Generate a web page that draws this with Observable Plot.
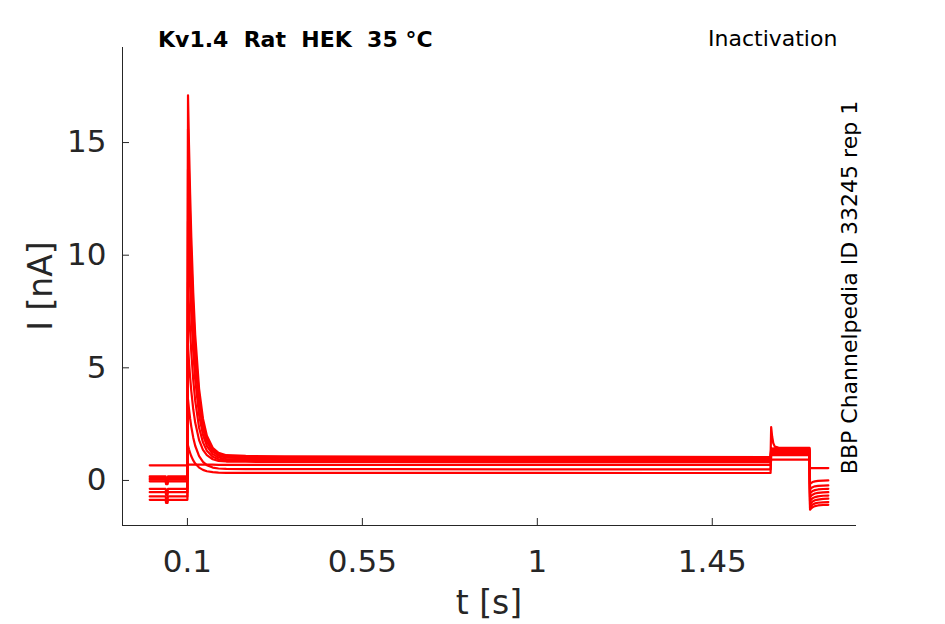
<!DOCTYPE html>
<html>
<head>
<meta charset="utf-8">
<script src="https://cdn.jsdelivr.net/npm/d3@7"></script>
<script src="https://cdn.jsdelivr.net/npm/@observablehq/plot@0.6"></script>
<style>
  html, body { margin: 0; padding: 0; background: #fff; }
  #chart { width: 945px; height: 624px; }
</style>
</head>
<body>
<div id="chart"></div>
<script>
// ---- axis settings ----
const xTicks = [0.1, 0.55, 1, 1.45];
const yTicks = [0, 5, 10, 15];
const xDomain = [-0.067, 1.821];
const yDomain = [-2.0, 19.22];

// ---- traces (9 sweeps) ----
const traceIds = ["A", "T1", "T2", "T3", "T4", "T5", "T6", "T7", "T8"];

// segment 1: holding (0 – 0.1 s)
const tPre = [0.003, 0.044, 0.045, 0.049, 0.050, 0.100];
const iPre = [
  [0.67, 0.67, 0.67, 0.67, 0.67, 0.67],
  [-0.86, -0.86, -1.00, -1.00, -0.86, -0.86],
  [-0.71, -0.71, -0.84, -0.84, -0.71, -0.71],
  [-0.52, -0.52, -0.64, -0.64, -0.52, -0.52],
  [-0.37, -0.37, -0.49, -0.49, -0.37, -0.37],
  [-0.04, -0.04, -0.16, -0.16, -0.04, -0.04],
  [0.03, 0.03, -0.09, -0.09, 0.03, 0.03],
  [0.10, 0.10, -0.02, -0.02, 0.10, 0.10],
  [0.18, 0.18, 0.06, 0.06, 0.18, 0.18]
];

// segment 2: prepulse (0.1 – 1.6 s)
const tMain = [0.1015, 0.104, 0.107, 0.110, 0.115, 0.120, 0.130, 0.140, 0.150, 0.165, 0.180, 0.200, 0.25, 0.35, 0.6, 1.0, 1.3, 1.6];
const iMain = [
  [0.70, 0.70, 0.70, 0.70, 0.70, 0.70, 0.70, 0.70, 0.70, 0.70, 0.69, 0.69, 0.69, 0.69, 0.69, 0.69, 0.69, 0.69],
  [17.10, 14.90, 12.68, 10.80, 8.32, 6.47, 4.07, 2.74, 1.99, 1.45, 1.23, 1.12, 1.09, 1.07, 1.06, 1.05, 1.05, 1.04],
  [15.60, 13.60, 11.58, 9.87, 7.61, 5.93, 3.75, 2.54, 1.86, 1.37, 1.16, 1.06, 1.04, 1.03, 1.02, 1.01, 1.00, 1.00],
  [13.80, 12.04, 10.26, 8.76, 6.77, 5.29, 3.37, 2.30, 1.71, 1.28, 1.10, 1.01, 0.99, 0.98, 0.97, 0.96, 0.96, 0.95],
  [11.50, 10.05, 8.58, 7.34, 5.70, 4.49, 2.90, 2.02, 1.53, 1.17, 1.02, 0.95, 0.93, 0.92, 0.91, 0.91, 0.90, 0.90],
  [8.80, 7.71, 6.61, 5.68, 4.45, 3.54, 2.34, 1.69, 1.32, 1.05, 0.94, 0.88, 0.87, 0.86, 0.86, 0.85, 0.85, 0.85],
  [6.00, 5.29, 4.57, 3.96, 3.16, 2.57, 1.79, 1.36, 1.12, 0.94, 0.87, 0.84, 0.83, 0.82, 0.82, 0.81, 0.81, 0.81],
  [3.60, 3.18, 2.74, 2.38, 1.90, 1.54, 1.08, 0.82, 0.68, 0.57, 0.53, 0.51, 0.50, 0.50, 0.50, 0.49, 0.49, 0.49],
  [1.55, 1.38, 1.22, 1.07, 0.89, 0.75, 0.57, 0.47, 0.41, 0.37, 0.35, 0.34, 0.34, 0.34, 0.34, 0.34, 0.33, 0.33]
];

// segment 3: test pulse (1.6 – 1.7 s)
const tTest = [1.6015, 1.604, 1.607, 1.611, 1.62, 1.65, 1.70];
const iTest = [
  [0.92, 0.92, 0.92, 0.92, 0.92, 0.92, 0.92],
  [2.37, 1.95, 1.65, 1.50, 1.46, 1.45, 1.45],
  [1.44, 1.43, 1.42, 1.42, 1.42, 1.42, 1.42],
  [1.40, 1.39, 1.38, 1.38, 1.38, 1.38, 1.38],
  [1.36, 1.35, 1.34, 1.34, 1.34, 1.34, 1.34],
  [1.32, 1.31, 1.30, 1.30, 1.30, 1.30, 1.30],
  [1.27, 1.26, 1.25, 1.25, 1.25, 1.25, 1.25],
  [1.20, 1.19, 1.18, 1.18, 1.18, 1.18, 1.18],
  [1.13, 1.12, 1.12, 1.12, 1.12, 1.12, 1.12]
];

// segment 4: tail (1.7 – 1.75 s)
const tTail = [1.7015, 1.704, 1.708, 1.714, 1.722, 1.735, 1.7485];
const iTail = [
  [0.55, 0.55, 0.55, 0.55, 0.55, 0.55, 0.55],
  [-1.30, -1.25, -1.19, -1.14, -1.11, -1.09, -1.08],
  [-1.22, -1.15, -1.07, -1.02, -0.99, -0.97, -0.96],
  [-1.07, -1.01, -0.93, -0.88, -0.85, -0.82, -0.81],
  [-0.92, -0.86, -0.79, -0.74, -0.71, -0.68, -0.67],
  [-0.75, -0.69, -0.63, -0.58, -0.55, -0.53, -0.52],
  [-0.58, -0.53, -0.47, -0.43, -0.40, -0.38, -0.37],
  [-0.40, -0.35, -0.30, -0.26, -0.24, -0.23, -0.22],
  [-0.16, -0.12, -0.07, -0.04, -0.02, -0.01, 0.00]
];

// ---- build table ----
const rows = [];
traceIds.forEach((id, k) => {
  [[tPre, iPre], [tMain, iMain], [tTest, iTest], [tTail, iTail]].forEach(([ts, is]) => {
    ts.forEach((t, j) => rows.push({trace: id, t, I: is[k][j]}));
  });
});

const axisColor = "#262626";
const tickLenY = (yDomain[1] - yDomain[0]) * 7 / 478;
const tickLenX = (xDomain[1] - xDomain[0]) * 7 / 734;

const chart = Plot.plot({
  width: 945,
  height: 624,
  marginLeft: 122,
  marginRight: 89,
  marginTop: 47,
  marginBottom: 99,
  x: {domain: xDomain},
  y: {domain: yDomain},
  style: {fontFamily: "DejaVu Sans", fontSize: "31px", color: axisColor, background: "white"},
  marks: [
    Plot.ruleX([xDomain[0]], {stroke: axisColor, strokeWidth: 1}),
    Plot.ruleY([yDomain[0]], {stroke: axisColor, strokeWidth: 1}),
    Plot.ruleX(xTicks, {x: d => d, y1: yDomain[0], y2: yDomain[0] + tickLenY, stroke: axisColor}),
    Plot.ruleY(yTicks, {y: d => d, x1: xDomain[0], x2: xDomain[0] + tickLenX, stroke: axisColor}),
    Plot.axisX({ticks: xTicks, tickSize: 0, tickPadding: 24, tickFormat: d => String(d), label: null, fontSize: 31, fill: axisColor}),
    Plot.axisY({ticks: yTicks, tickSize: 0, tickPadding: 16, tickFormat: d => String(d), label: null, fontSize: 31, fill: axisColor}),
    Plot.line(rows, {x: "t", y: "I", z: "trace", stroke: "#ff0000", strokeWidth: 2.2})
  ]
});

document.getElementById("chart").appendChild(chart);

const svg = d3.select(chart);
svg.append("text")
  .attr("x", 158).attr("y", 47)
  .attr("text-anchor", "start")
  .attr("font-family", "DejaVu Sans").attr("font-size", 22).attr("font-weight", "bold")
  .attr("fill", "#000")
  .text("Kv1.4\u00a0 Rat\u00a0 HEK\u00a0 35 °C");
svg.append("text")
  .attr("x", 708).attr("y", 46)
  .attr("text-anchor", "start")
  .attr("font-family", "DejaVu Sans").attr("font-size", 22)
  .attr("fill", "#000")
  .text("Inactivation");
svg.append("text")
  .attr("transform", "translate(857,287.5) rotate(-90)")
  .attr("text-anchor", "middle")
  .attr("font-family", "DejaVu Sans").attr("font-size", 22)
  .attr("fill", "#000")
  .text("BBP Channelpedia ID 33245 rep 1");
svg.append("text")
  .attr("transform", "translate(52,286) rotate(-90)")
  .attr("text-anchor", "middle")
  .attr("font-family", "DejaVu Sans").attr("font-size", 33)
  .attr("fill", axisColor)
  .text("I [nA]");
svg.append("text")
  .attr("x", 489).attr("y", 614)
  .attr("text-anchor", "middle")
  .attr("font-family", "DejaVu Sans").attr("font-size", 33)
  .attr("fill", axisColor)
  .text("t [s]");
</script>
</body>
</html>
